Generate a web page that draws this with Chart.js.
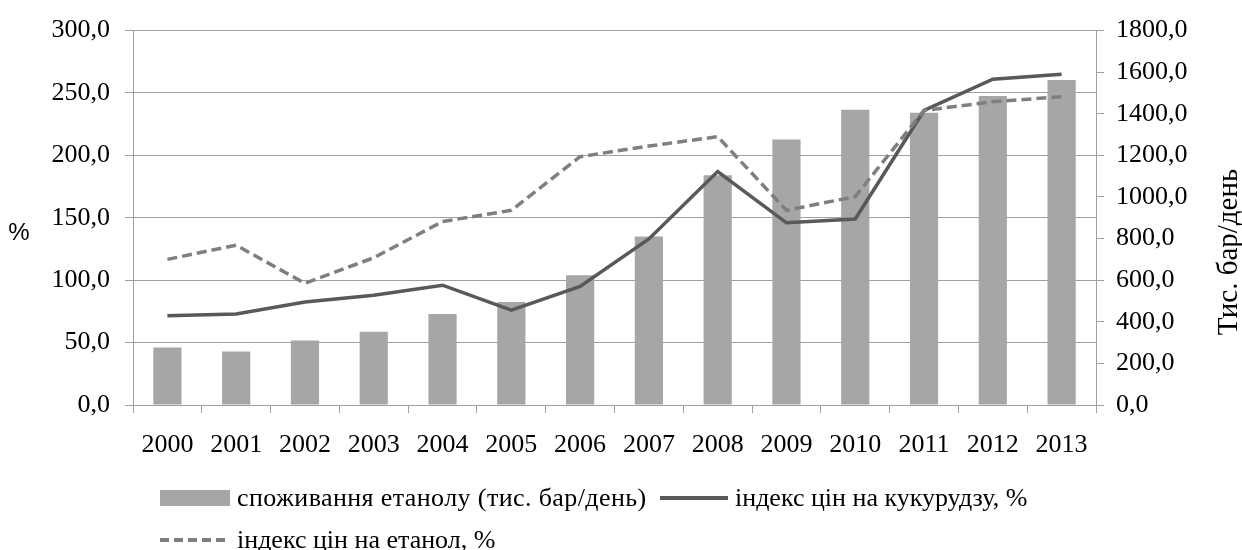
<!DOCTYPE html>
<html lang="uk">
<head>
<meta charset="UTF-8">
<title>Етанол</title>
<script src="https://cdn.jsdelivr.net/npm/chart.js"></script>
<style>
  body { margin: 0; background: #fff; }
  #wrap { position: relative; width: 1242px; height: 550px; }
  .legend { position: absolute; font-family: "Liberation Serif", serif; font-size: 26px; color: #000; white-space: nowrap; line-height: 30px; }
  .sw { position: absolute; }
</style>
</head>
<body>
<div id="wrap">
  <canvas id="chart" width="1242" height="550"></canvas>

  <!-- legend (HTML, laid out like the original) -->
  <div class="sw" style="left:160px;top:490px;width:70px;height:16px;background:#a6a6a6"></div>
  <div class="legend" style="left:237px;top:483px;letter-spacing:0.4px">споживання етанолу (тис. бар/день)</div>
  <div class="sw" style="left:660px;top:496px;width:68px;height:4px;background:#595959"></div>
  <div class="legend" style="left:735px;top:483px">індекс цін на кукурудзу, %</div>
  <div class="sw" style="left:160px;top:538px;width:68px;height:4px;background:repeating-linear-gradient(to right,#7f7f7f 0 9px,transparent 9px 14px)"></div>
  <div class="legend" style="left:237px;top:525px">індекс цін на етанол, %</div>
</div>

<script>
const years = ['2000','2001','2002','2003','2004','2005','2006','2007','2008','2009','2010','2011','2012','2013'];
// thousand barrels per day (right axis)
const consumption = [276, 257, 310, 352, 438, 495, 624, 810, 1105, 1276, 1419, 1405, 1486, 1562];
// price indices, % (left axis)
const cornIndex = [71.6, 73, 82.5, 88, 96, 76, 95, 133, 187, 146, 149, 236, 261, 265];
const ethanolIndex = [116.7, 128, 97.5, 118, 147, 156, 199, 207.5, 215, 156, 167, 236, 243, 247];

const leftTicks = [0, 50, 100, 150, 200, 250, 300];
const rightTicks = [0, 200, 400, 600, 800, 1000, 1200, 1400, 1600, 1800];

const fmt = v => v.toFixed(1).replace('.', ',');
const serif = { family: 'Liberation Serif', size: 26 };

// axis titles: "%" stays upright, the right one reads bottom-to-top
const titles = {
  id: 'titles',
  afterDraw(chart) {
    const ctx = chart.ctx;
    ctx.save();
    ctx.fillStyle = '#000';
    ctx.textAlign = 'center';
    ctx.textBaseline = 'middle';
    ctx.font = '24px "Liberation Sans"';
    ctx.fillText('%', 19, 233);
    ctx.translate(1229, 252);
    ctx.rotate(-Math.PI / 2);
    ctx.font = '29px "Liberation Serif"';
    ctx.fillText('Тис. бар/день', 0, 0);
    ctx.restore();
  }
};

new Chart(document.getElementById('chart'), {
  data: {
    labels: years,
    datasets: [
      {
        type: 'line',
        label: 'індекс цін на кукурудзу, %',
        data: cornIndex,
        yAxisID: 'y',
        borderColor: '#595959',
        borderWidth: 3.5,
        pointRadius: 0,
        tension: 0,
        order: 1
      },
      {
        type: 'line',
        label: 'індекс цін на етанол, %',
        data: ethanolIndex,
        yAxisID: 'y',
        borderColor: '#7f7f7f',
        borderWidth: 3.5,
        borderDash: [10, 5],
        pointRadius: 0,
        tension: 0,
        order: 0
      },
      {
        type: 'bar',
        label: 'споживання етанолу (тис. бар/день)',
        data: consumption,
        yAxisID: 'y1',
        backgroundColor: '#a6a6a6',
        categoryPercentage: 1,
        barPercentage: 0.41,
        order: 2
      }
    ]
  },
  options: {
    responsive: false,
    animation: false,
    layout: { padding: { top: 27, left: 0, right: 0, bottom: 0 } },
    plugins: { legend: { display: false }, tooltip: { enabled: false } },
    scales: {
      x: {
        offset: true,
        grid: { offset: true, drawOnChartArea: false, tickLength: 8, color: '#a0a0a0' },
        border: { color: '#a0a0a0' },
        ticks: { font: serif, color: '#000', padding: 17, maxRotation: 0, autoSkip: false },
        afterFit: s => { s.height = 145; }
      },
      y: {
        position: 'left',
        min: 0, max: 300,
        afterBuildTicks: s => { s.ticks = leftTicks.map(v => ({ value: v })); },
        grid: { color: '#a0a0a0', tickLength: 8 },
        border: { color: '#a0a0a0' },
        ticks: { font: serif, color: '#000', padding: 15, callback: fmt },
        afterFit: s => { s.width = 133; }
      },
      y1: {
        position: 'right',
        min: 0, max: 1800,
        afterBuildTicks: s => { s.ticks = rightTicks.map(v => ({ value: v })); },
        grid: { drawOnChartArea: false, color: '#a0a0a0', tickLength: 8 },
        border: { color: '#a0a0a0' },
        ticks: { font: serif, color: '#000', padding: 12, callback: fmt },
        afterFit: s => { s.width = 146; }
      }
    }
  },
  plugins: [titles]
});
</script>
</body>
</html>
